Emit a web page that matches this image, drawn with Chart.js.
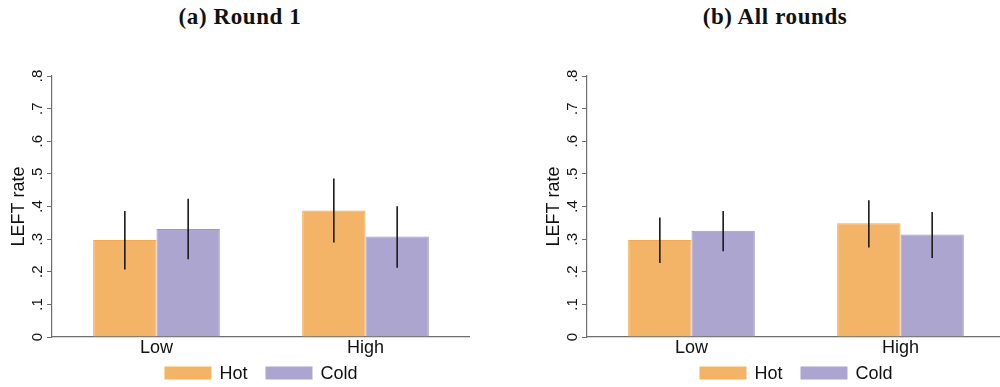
<!DOCTYPE html>
<html>
<head>
<meta charset="utf-8">
<script src="https://cdn.jsdelivr.net/npm/chart.js@4/dist/chart.umd.min.js"></script>
<style>
  html, body { margin: 0; padding: 0; background: #fff; overflow: hidden; }
  body { width: 1000px; height: 387px; position: relative; }
  .panel { position: absolute; top: 0; width: 470px; height: 387px; }
  .panel canvas { display: block; }
  .title {
    position: absolute; top: 4px; width: 300px; text-align: center;
    font: bold 23px "Liberation Serif", serif; letter-spacing: 0.6px; color: #111;
  }
</style>
</head>
<body>
<div class="title" style="left:90px">(a) Round 1</div>
<div class="title" style="left:625px">(b) All rounds</div>
<div class="panel" style="left:0px"><canvas id="chartRound1" width="470" height="387"></canvas></div>
<div class="panel" style="left:535px"><canvas id="chartAll" width="470" height="387"></canvas></div>

<script>
const categories = ["Low", "High"];
const seriesNames = ["Hot", "Cold"];
const yTickLabels = ["0", ".1", ".2", ".3", ".4", ".5", ".6", ".7", ".8"];

// (a) Round 1
const round1Hot = [0.297, 0.388];
const round1Cold = [0.331, 0.308];
const round1HotLow = [0.207, 0.290];
const round1HotHigh = [0.386, 0.486];
const round1ColdLow = [0.238, 0.212];
const round1ColdHigh = [0.424, 0.401];

// (b) All rounds
const allHot = [0.297, 0.349];
const allCold = [0.326, 0.314];
const allHotLow = [0.227, 0.274];
const allHotHigh = [0.366, 0.419];
const allColdLow = [0.263, 0.242];
const allColdHigh = [0.386, 0.383];

const HOT_COLOR = "#f4b467";
const COLD_COLOR = "#aca5cf";
const AXIS_COLOR = "#6e6e6e";

const errorBarPlugin = {
  id: "errorBars",
  afterDatasetsDraw(chart) {
    const ctx = chart.ctx;
    const y = chart.scales.y;
    ctx.save();
    ctx.strokeStyle = "#1a1a1a";
    ctx.lineWidth = 1.6;
    chart.data.datasets.forEach((ds, i) => {
      const meta = chart.getDatasetMeta(i);
      meta.data.forEach((bar, j) => {
        ctx.beginPath();
        ctx.moveTo(bar.x, y.getPixelForValue(ds.errLow[j]));
        ctx.lineTo(bar.x, y.getPixelForValue(ds.errHigh[j]));
        ctx.stroke();
      });
    });
    ctx.restore();
  },
};

const legendPlugin = {
  id: "bottomLegend",
  afterDraw(chart) {
    const ctx = chart.ctx;
    const area = chart.chartArea;
    const boxW = 47, boxH = 13, gapText = 8, gapItem = 18;
    ctx.save();
    ctx.font = '18px "Liberation Sans", Arial, sans-serif';
    const items = chart.data.datasets.map((ds) => ({
      label: ds.label,
      color: ds.backgroundColor,
      w: ctx.measureText(ds.label).width,
    }));
    let total = 0;
    items.forEach((it, i) => {
      total += boxW + gapText + it.w + (i < items.length - 1 ? gapItem : 0);
    });
    let x = (area.left + area.right) / 2 - total / 2;
    const cy = 373;
    ctx.textBaseline = "middle";
    ctx.textAlign = "left";
    items.forEach((it) => {
      ctx.fillStyle = it.color;
      ctx.fillRect(x, cy - boxH / 2, boxW, boxH);
      x += boxW + gapText;
      ctx.fillStyle = "#111";
      ctx.fillText(it.label, x, cy + 1);
      x += it.w + gapItem;
    });
    ctx.restore();
  },
};

function makeChart(id, hot, cold, hotLow, hotHigh, coldLow, coldHigh) {
  return new Chart(document.getElementById(id), {
    type: "bar",
    data: {
      labels: categories,
      datasets: [
        {
          label: seriesNames[0],
          data: hot,
          errLow: hotLow,
          errHigh: hotHigh,
          backgroundColor: HOT_COLOR,
          borderColor: "#f1aa55",
          borderWidth: 1,
        },
        {
          label: seriesNames[1],
          data: cold,
          errLow: coldLow,
          errHigh: coldHigh,
          backgroundColor: COLD_COLOR,
          borderColor: "#9d96c6",
          borderWidth: 1,
        },
      ],
    },
    options: {
      responsive: false,
      animation: false,
      layout: { padding: { top: 76, bottom: 26, left: 0, right: 0 } },
      datasets: {
        bar: { categoryPercentage: 0.606, barPercentage: 1.0 },
      },
      plugins: {
        legend: { display: false },
        tooltip: { enabled: false },
      },
      scales: {
        x: {
          grid: { display: false, drawTicks: false },
          border: { display: true, color: AXIS_COLOR, width: 1.2 },
          ticks: {
            padding: 0,
            color: "#111",
            font: { family: '"Liberation Sans", Arial, sans-serif', size: 18 },
          },
          afterFit(scale) {
            scale.height = 24;
          },
        },
        y: {
          min: 0,
          max: 0.8,
          grid: {
            display: true,
            drawOnChartArea: false,
            drawTicks: true,
            tickLength: 5,
            color: AXIS_COLOR,
          },
          border: { display: true, color: AXIS_COLOR, width: 1.2 },
          ticks: {
            stepSize: 0.1,
            minRotation: 90,
            maxRotation: 90,
            crossAlign: "center",
            padding: 3,
            color: "#111",
            font: { family: '"Liberation Sans", Arial, sans-serif', size: 15 },
            callback: (value, index) => yTickLabels[index],
          },
          title: {
            display: true,
            text: "LEFT rate",
            color: "#111",
            padding: { top: 8, bottom: 0 },
            font: { family: '"Liberation Sans", Arial, sans-serif', size: 18 },
          },
          afterFit(scale) {
            scale.width = 52;
          },
        },
      },
    },
    plugins: [errorBarPlugin, legendPlugin],
  });
}

makeChart("chartRound1", round1Hot, round1Cold, round1HotLow, round1HotHigh, round1ColdLow, round1ColdHigh);
makeChart("chartAll", allHot, allCold, allHotLow, allHotHigh, allColdLow, allColdHigh);
</script>
</body>
</html>
